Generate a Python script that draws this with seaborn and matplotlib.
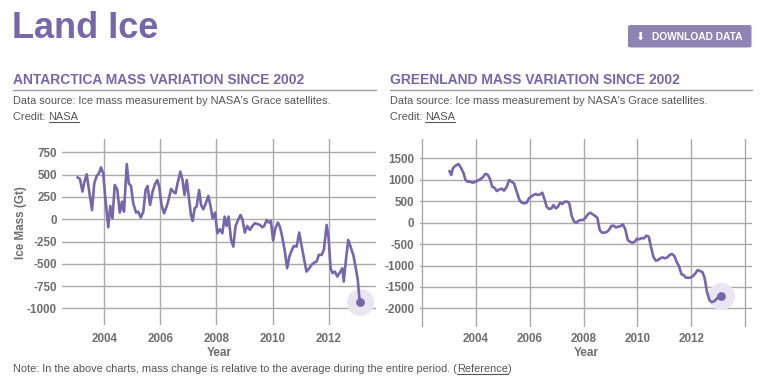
import matplotlib
matplotlib.use("Agg")
import matplotlib.pyplot as plt
from matplotlib.patches import FancyBboxPatch
from matplotlib.lines import Line2D
import pandas as pd
import seaborn as sns

# Antarctica mass variation (Gt)
ant_years = [2003.04, 2003.13, 2003.22, 2003.29, 2003.37, 2003.47, 2003.56, 2003.64, 2003.73, 2003.81,
             2003.88, 2003.96, 2004.04, 2004.14, 2004.21, 2004.29, 2004.37, 2004.46, 2004.55, 2004.63,
             2004.70, 2004.80, 2004.87, 2004.95, 2005.03, 2005.13, 2005.21, 2005.30, 2005.39, 2005.47,
             2005.54, 2005.63, 2005.72, 2005.81, 2005.89, 2005.96, 2006.04, 2006.13, 2006.22, 2006.29,
             2006.38, 2006.46, 2006.54, 2006.61, 2006.71, 2006.79, 2006.86, 2006.94, 2007.01, 2007.09,
             2007.15, 2007.22, 2007.29, 2007.38, 2007.45, 2007.53, 2007.61, 2007.71, 2007.79, 2007.86,
             2007.95, 2008.03, 2008.12, 2008.21, 2008.29, 2008.36, 2008.43, 2008.52, 2008.60, 2008.68,
             2008.77, 2008.86, 2008.93, 2009.01, 2009.10, 2009.19, 2009.28, 2009.37, 2009.45, 2009.55,
             2009.63, 2009.70, 2009.79, 2009.86, 2009.94, 2010.02, 2010.10, 2010.19, 2010.26, 2010.33,
             2010.43, 2010.52, 2010.60, 2010.69, 2010.76, 2010.86, 2010.95, 2011.04, 2011.12, 2011.21,
             2011.31, 2011.39, 2011.49, 2011.57, 2011.65, 2011.75, 2011.83, 2011.93, 2012.00, 2012.07,
             2012.14, 2012.22, 2012.31, 2012.40, 2012.49, 2012.54, 2012.63, 2012.70, 2012.78, 2012.88,
             2012.97, 2013.04, 2013.11]
ant_mass = [470, 451, 310, 420, 504, 290, 104, 403, 489, 515,
            582, 515, 216, -90, 150, 11, 384, 336, 75, 198,
            86, 619, 403, 373, 179, 75, 86, 19, 86, 328,
            373, 160, 310, 396, 440, 358, 160, 67, 142, 216,
            340, 310, 291, 403, 534, 440, 272, 440, 254, 48,
            -19, 123, 142, 328, 160, 112, 172, 261, 142, 11,
            75, -157, -112, -157, 30, -75, 30, -231, -306, -75,
            -7, 48, -7, -149, -75, -119, -75, -45, -52, -63,
            -90, -75, -7, -37, -19, -239, -101, -37, -82, -175,
            -343, -549, -418, -343, -299, -306, -149, -306, -437, -586,
            -549, -511, -485, -474, -399, -399, -343, -63, -213, -549,
            -604, -586, -642, -597, -549, -698, -418, -231, -306, -399,
            -549, -679, -929]

# Greenland mass variation (Gt)
grl_years = [2003.02, 2003.09, 2003.15, 2003.23, 2003.36, 2003.46, 2003.54, 2003.62, 2003.70, 2003.79,
             2003.88, 2003.96, 2004.06, 2004.16, 2004.26, 2004.35, 2004.43, 2004.52, 2004.61, 2004.69,
             2004.78, 2004.88, 2004.96, 2005.05, 2005.15, 2005.24, 2005.33, 2005.42, 2005.52, 2005.62,
             2005.71, 2005.79, 2005.89, 2005.97, 2006.05, 2006.14, 2006.22, 2006.30, 2006.39, 2006.47,
             2006.56, 2006.63, 2006.72, 2006.81, 2006.88, 2006.97, 2007.05, 2007.13, 2007.21, 2007.30,
             2007.40, 2007.47, 2007.56, 2007.65, 2007.73, 2007.82, 2007.91, 2007.99, 2008.08, 2008.17,
             2008.25, 2008.34, 2008.43, 2008.51, 2008.60, 2008.68, 2008.77, 2008.86, 2008.94, 2009.03,
             2009.12, 2009.20, 2009.29, 2009.38, 2009.46, 2009.55, 2009.64, 2009.72, 2009.81, 2009.90,
             2009.98, 2010.07, 2010.16, 2010.24, 2010.33, 2010.42, 2010.50, 2010.59, 2010.68, 2010.76,
             2010.85, 2010.93, 2011.02, 2011.11, 2011.19, 2011.28, 2011.37, 2011.45, 2011.54, 2011.63,
             2011.71, 2011.80, 2011.89, 2011.97, 2012.06, 2012.15, 2012.23, 2012.32, 2012.41, 2012.49,
             2012.58, 2012.67, 2012.75, 2012.84, 2012.92, 2013.01, 2013.10]
grl_mass = [1206, 1113, 1268, 1323, 1369, 1268, 1167, 996, 957, 957,
            934, 949, 980, 1011, 1058, 1136, 1128, 1035, 840, 817,
            739, 778, 794, 747, 840, 996, 957, 918, 724, 529,
            467, 451, 467, 568, 607, 646, 669, 646, 661, 700,
            529, 373, 319, 335, 412, 335, 373, 467, 436, 490,
            490, 451, 156, 23, 0, 47, 62, 62, 124, 202,
            233, 195, 156, 117, -171, -233, -233, -218, -171, -78,
            -70, -109, -93, -78, -39, -156, -405, -443, -467, -443,
            -373, -389, -358, -366, -303, -327, -560, -794, -887, -871,
            -832, -809, -832, -809, -755, -731, -778, -910, -1011, -1198,
            -1221, -1284, -1284, -1284, -1245, -1183, -1105, -1128, -1151, -1284,
            -1610, -1805, -1852, -1836, -1789, -1727, -1712]

ant_yticks = [750, 500, 250, 0, -250, -500, -750, -1000]
grl_yticks = [1500, 1000, 500, 0, -500, -1000, -1500, -2000]
ant_xticks = [2004, 2006, 2008, 2010, 2012]
grl_xticks = [2002, 2004, 2006, 2008, 2010, 2012, 2014]
grl_xlabels = ["", "2004", "2006", "2008", "2010", "2012", ""]

W, H = 765, 376
PURPLE = "#7667aa"
TICK_GRAY = "#6e6e6e"
TEXT_GRAY = "#555555"
GRID = "#a9a9a9"

sns.set_style("white")
plt.rcParams["font.family"] = ["Liberation Sans", "DejaVu Sans"]


def fx(px):
    return px / W


def fy(py):
    return 1 - py / H


fig = plt.figure(figsize=(W / 100, H / 100), dpi=100)


def make_panel(rect, years, mass, xlim, ylim, xticks, xlabels, yticks, xpad):
    left, top, right, bottom = rect
    ax = fig.add_axes([fx(left), fy(bottom), (right - left) / W, (bottom - top) / H])
    df = pd.DataFrame({"Year": years, "Mass": mass})
    sns.lineplot(data=df, x="Year", y="Mass", ax=ax, color=PURPLE, linewidth=1.9, zorder=3)
    # highlight last measurement
    ax.scatter(df["Year"].iloc[-1], df["Mass"].iloc[-1], s=380, color="#e9e6f1", zorder=2, lw=0)
    ax.scatter(df["Year"].iloc[-1], df["Mass"].iloc[-1], s=40, color=PURPLE, zorder=4, lw=0)
    ax.set_xlim(*xlim)
    ax.set_ylim(*ylim)
    ax.set_xticks(xticks)
    ax.set_xticklabels(xlabels)
    ax.set_yticks(yticks)
    ax.set_yticklabels([str(v) for v in yticks])
    ax.grid(True, color=GRID, linewidth=1)
    ax.set_axisbelow(True)
    sns.despine(ax=ax, left=True, bottom=True)
    ax.tick_params(axis="both", length=0, labelsize=8.4, labelcolor=TICK_GRAY)
    ax.tick_params(axis="x", pad=xpad)
    ax.tick_params(axis="y", pad=4)
    for lab in ax.get_xticklabels() + ax.get_yticklabels():
        lab.set_fontweight("bold")
    ax.set_xlabel("")
    ax.set_ylabel("")
    return ax


ax1 = make_panel((62.3, 139, 376, 325), ant_years, ant_mass, (2002.50, 2013.69), (-1185, 900),
                 ant_xticks, [str(t) for t in ant_xticks], ant_yticks, 6)
ax2 = make_panel((420, 139, 751.7, 326.7), grl_years, grl_mass, (2001.93, 2014.24), (-2427, 1953),
                 grl_xticks, grl_xlabels, grl_yticks, 4.5)

# axis titles
fig.text(fx(21), fy(223), "Ice Mass (Gt)", rotation=90, ha="center", va="center",
         fontsize=8.4, fontweight="bold", color=TICK_GRAY)
for cx in (219, 586):
    fig.text(fx(cx), fy(353), "Year", ha="center", va="center",
             fontsize=8.5, fontweight="bold", color=TICK_GRAY)

# page header
fig.text(fx(12), fy(38.5), "Land Ice", ha="left", va="baseline", fontsize=26,
         fontweight="bold", color=PURPLE)

btn = FancyBboxPatch((fx(628), fy(47.5)), fx(751.5) - fx(628), fy(25) - fy(47.5),
                     boxstyle="round,pad=0,rounding_size=0.004", transform=fig.transFigure,
                     facecolor="#8f83b3", edgecolor="none")
fig.add_artist(btn)
fig.text(fx(640), fy(36.5), "\u2b07", ha="center", va="center", fontsize=8,
         color="white", family=["DejaVu Sans"])
fig.text(fx(652.5), fy(36.5), "DOWNLOAD DATA", ha="left", va="center", fontsize=7.4,
         fontweight="bold", color="white")

underline = []
for x0, x1, name in ((13, 376, "ANTARCTICA"), (390, 751.7, "GREENLAND")):
    fig.text(fx(x0), fy(83.5), f"{name} MASS VARIATION SINCE 2002", ha="left", va="baseline",
             fontsize=10, fontweight="bold", color=PURPLE)
    fig.add_artist(Line2D([fx(x0), fx(x1)], [fy(90), fy(90)], color="#9a9a9a", lw=1,
                          transform=fig.transFigure))
    fig.text(fx(x0), fy(104), "Data source: Ice mass measurement by NASA's Grace satellites.",
             ha="left", va="baseline", fontsize=7.9, color=TEXT_GRAY)
    cred = fig.text(fx(x0), fy(120), "Credit: ", ha="left", va="baseline",
                    fontsize=7.9, color=TEXT_GRAY)
    underline.append((cred, "NASA"))

note = fig.text(fx(13), fy(372), "Note: In the above charts, mass change is relative to the average "
                "during the entire period. (", ha="left", va="baseline", fontsize=7.9, color=TEXT_GRAY)
underline.append((note, "Reference"))

# place linked words right after their lead-in text and underline them
renderer = fig.canvas.get_renderer()
for lead, word in underline:
    bb = lead.get_window_extent(renderer)
    x_end = bb.x1 / fig.dpi / fig.get_figwidth()
    y0 = lead.get_position()[1]
    t = fig.text(x_end, y0, word, ha="left", va="baseline", fontsize=7.9, color=TEXT_GRAY)
    wb = t.get_window_extent(renderer)
    x_a = wb.x0 / (fig.dpi * fig.get_figwidth())
    x_b = wb.x1 / (fig.dpi * fig.get_figwidth())
    y_u = y0 - 1.8 / H
    fig.add_artist(Line2D([x_a, x_b], [y_u, y_u], color=TEXT_GRAY, lw=0.8, transform=fig.transFigure))
    if word == "Reference":
        fig.text(x_b, y0, ")", ha="left", va="baseline", fontsize=7.9, color=TEXT_GRAY)

fig.savefig("out.png", dpi=100)
